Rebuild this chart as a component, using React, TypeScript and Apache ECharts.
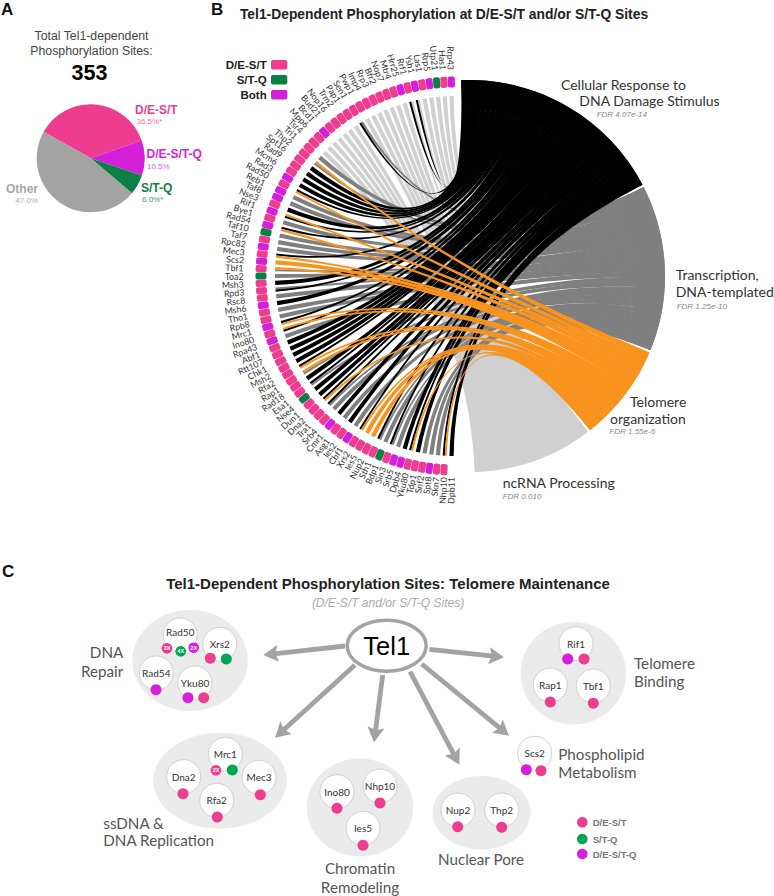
import React, { useEffect, useRef } from "react";
import * as echarts from "echarts";

// ---------- data ----------
const pieNames = ["D/E-S/T", "D/E-S/T-Q", "S/T-Q", "Other"];
const pieValues = [36.5, 10.5, 6.0, 47.0];
const totalSites = "353";

const geneNames = ["Rrp43","Has1","Utp21","Rrp5","Las1","Ysh1","Rrf1","Hrr25","Mtr4","Nop7","Bfr2","Rrp3","Imp4","Pwp1","Sen1","Pap1","Trm2","Nop16","Bud21","Bcd1","Mpp6","Tsr4","Tri1","Thp2","Spt16","Rad9","Mcm6","Rad3","Rad50","Reb1","Taf8","Nse3","Rif1","Bye1","Rad54","Taf10","Taf7","Rpc82","Mec3","Scs2","Tbf1","Toa2","Msh3","Rpd3","Rsc8","Msh6","Tho1","Rpb8","Mrc1","Ino80","Rpa43","Abf1","Rtt107","Chk1","Msh2","Rfa2","Rap1","Rad18","Esa1","Nse4","Dun1","Dna2","Tra1","Srb4","Cmr1","Asg1","Ies2","Cbf1","Xrs2","Ies5","Nup2","Sth1","Bdp1","Sin3","Srb5","Dpb4","Yku80","Tdp1","Snf2","Spt8","Skn7","Nhp10","Dpb11"];
// P = D/E-S/T, G = S/T-Q, B = both
const geneTypes = "BPGBPBPBPPPPPPPPPPPBPPPPPPPBPBBPBPBGPBPBPGPPPBPPBPBPPPPPPPPGPPPPBPPBPPPPGPBBPPPBPP".slice(0, 83).split("");
// K = DNA damage, Y = transcription, O = telomere, L = ncRNA
const geneTerms = ["L","L","L","L","L","LK","LK","L","L","L","L","L","L","L","YK","L","L","L","L","L","L","L","Y","OY","K","K","K","K","KO","Y","Y","K","OK","Y","KO","Y","Y","Y","KO","O","OY","Y","K","YK","Y","K","Y","Y","KO","OK","Y","K","K","K","K","KO","OY","K","KY","K","K","KO","KY","Y","K","Y","K","Y","KO","O","O","KY","Y","KY","Y","K","KO","K","Y","Y","Y","KO","K"];

const termOrder = ["K", "Y", "O", "L"];
const termColors: Record<string, string> = { K: "#000000", Y: "#7f7f7f", O: "#f7931e", L: "#d0d0d0" };
const termTitles = [
  ["Cellular Response to", "DNA Damage Stimulus", "FDR 4.07e-14"],
  ["Transcription,", "DNA-templated", "FDR 1.25e-10"],
  ["Telomere", "organization", "FDR 1.55e-6"],
  ["ncRNA Processing", "", "FDR 0.010"],
];
const siteLegend = ["D/E-S/T", "S/T-Q", "Both"];
const panelCLegend = ["D/E-S/T", "S/T-Q", "D/E-S/T-Q"];

// Panel C: protein, then its site marks as colour code + optional multiplicity
const groupLabels = [
  ["DNA", "Repair"], ["ssDNA &", "DNA Replication"], ["Chromatin", "Remodeling"],
  ["Nuclear Pore"], ["Telomere", "Binding"], ["Phospholipid", "Metabolism"],
];
const proteins = ["Rad50","Xrs2","Rad54","Yku80","Mrc1","Dna2","Mec3","Rfa2","Ino80","Nhp10","Ies5","Nup2","Thp2","Rif1","Rap1","Tbf1","Scs2"];
const proteinSites = [["P3X","G4X","B2X"],["P","G"],["B"],["B","P"],["P2X","G"],["P"],["P"],["P"],["P"],["P"],["P"],["P"],["P"],["B","P"],["P"],["P"],["B","P"]];

// ---------- styles and layout ----------
const PINK = "#ee3d8f", PURPLE = "#d41fdb", GREEN = "#0b7f45", GREEN2 = "#00a651", GREY = "#a3a3a3";
const SANS = "Liberation Sans", HUM = "Lato";
const typeColor: Record<string, string> = { P: PINK, G: GREEN, B: PURPLE };
const dotColor: Record<string, string> = { P: PINK, G: GREEN2, B: PURPLE };
const proteinPos = [[180.3,635],[219.7,644.3],[156.3,673],[195,683],[225.3,754.3],[183.7,776.7],[259,777.3],[216.7,800.3],[337,791.7],[380,786],[363,828.3],[458,810],[501.7,810],[576,643.7],[550.3,685],[593.3,686],[534.7,753.3]];
const dotPos = [[[167,648.3],[180.7,651.3],[193.7,647.7]],[[210.3,658.3],[226.3,659]],[[156,689.7]],[[188,697.7],[203.7,697.7]],[[216,770.3],[232.3,770]],[[183,793.7]],[[260.3,794.7]],[[217.3,817]],[[337,808.3]],[[380,803]],[[363,845.3]],[[457.7,826.7]],[[501.7,827.3]],[[567.7,659],[584,659]],[[550.3,702]],[[593.3,703.3]],[[526.3,769.7],[541,770.7]]];
const blobs = [[190,660.5,57.7,50.5],[220,780.7,66.7,48],[360,807.5,53.3,49],[481.5,812.7,49,36.7],[573.3,673.3,52.7,51.3]];
const arrows = [[345,646,263.3,655],[355,665,275,737.7],[382.7,675,374,742.3],[410,671.7,459.3,764.7],[421.7,664,509,735.7],[429.3,649.3,504,657.3]];
const groupLabelPos: any[] = [
  [123.3,[652,671],"right"],[103.3,[822.7,840],"left"],[360,[868,886.7],"center"],
  [481,[859.3],"center"],[634,[662.7,680.7],"left"],[558.3,[753.7,772],"left"],
];

const N = geneNames.length;
const GENE_R0 = 180, TILE_R = 194, SECT_R = 196;
const UNITS = 212, GAP = 0.45, GENE_BEND = 0.06, SECT_BEND = 0.6, GENE_SPAN = 0.62;
const GENE_KEEP = 0.4, SECT_KEEP = 0.88; // share of ribbon width held at each control point

function txt(text: string, x: number, y: number, o: any = {}) {
  return {
    type: "text", x, y, silent: true,
    style: {
      text, fontFamily: o.font || SANS, fontSize: o.size || 12, fontWeight: o.weight || "normal",
      fontStyle: o.italic ? "italic" : "normal", fill: o.fill || "#333",
      textAlign: o.align || "left", textVerticalAlign: "middle",
    },
  };
}

function arrowEls(a: number[]) {
  const [x0, y0, x1, y1] = a;
  const L = Math.hypot(x1 - x0, y1 - y0), ux = (x1 - x0) / L, uy = (y1 - y0) / L;
  const nx = -uy, ny = ux, hl = 15, hw = 8.5, sw = 2.4, bx = x1 - ux * hl + ux * 2, by = y1 - uy * hl + uy * 2;
  return {
    type: "polygon", silent: true,
    shape: {
      points: [
        [x0 + nx * sw, y0 + ny * sw], [bx + nx * sw, by + ny * sw],
        [x1 - ux * hl + nx * hw, y1 - uy * hl + ny * hw], [x1, y1],
        [x1 - ux * hl - nx * hw, y1 - uy * hl - ny * hw], [bx - nx * sw, by - ny * sw],
        [x0 - nx * sw, y0 - ny * sw],
      ],
    },
    style: { fill: GREY },
  };
}

function buildLinks() {
  const counts: Record<string, number> = {};
  geneTerms.forEach((t) => t.split("").forEach((c) => (counts[c] = (counts[c] || 0) + 1)));
  const starts: Record<string, number> = {};
  const spans: any[] = [];
  let p = 0;
  termOrder.forEach((t) => {
    starts[t] = p;
    spans.push([SECT_R, p, p + counts[t], t]);
    p += counts[t] + GAP;
  });
  const used: Record<string, number> = {};
  const links: any[] = [];
  geneTerms.forEach((terms, i) => {
    const parts = terms.split("");
    const w = GENE_SPAN / parts.length;
    parts.forEach((t, j) => {
      const g0 = i + 0.5 - GENE_SPAN / 2 + j * w;
      const s = starts[t] + (used[t] = (used[t] || 0) + 1) - 1;
      links.push([GENE_R0, g0, g0 + w, s, t]);
    });
  });
  const drawOrder = ["L", "Y", "K", "O"];
  links.sort((a, b) => drawOrder.indexOf(a[4]) - drawOrder.indexOf(b[4]));
  return { links, spans };
}

// control points: centre of the ribbon pulled inward, holding `keep` of the end's width
function ctrl(P0: number[], P1: number[], mid: number[], keep: number) {
  const hx = ((P1[0] - P0[0]) / 2) * keep, hy = ((P1[1] - P0[1]) / 2) * keep;
  return [[mid[0] - hx, mid[1] - hy], [mid[0] + hx, mid[1] + hy]];
}

export default function App() {
  const ref = useRef<HTMLDivElement>(null);
  useEffect(() => {
    if (!ref.current) return;
    const chart = echarts.init(ref.current, undefined, { renderer: "svg" });
    const { links, spans } = buildLinks();
    const sect = (r: number, a: number) => chart.convertToPixel({ polarIndex: 1 } as any, [r, a]) as unknown as number[];

    const g: any[] = [];
    // panel letters and panel A text
    g.push(txt("A", 1, 9, { size: 17, weight: "bold", fill: "#111" }));
    g.push(txt("B", 211, 9, { size: 17, weight: "bold", fill: "#111" }));
    g.push(txt("C", 2, 571, { size: 17, weight: "bold", fill: "#111" }));
    g.push(txt("Total Tel1-dependent", 91.5, 36, { size: 12.3, fill: "#444", align: "center" }));
    g.push(txt("Phosphorylation Sites:", 91.5, 51, { size: 12.3, fill: "#444", align: "center" }));
    g.push(txt(totalSites, 89.5, 73, { size: 21.5, weight: "bold", fill: "#000", align: "center" }));
    const pct = pieValues.map((v) => v.toFixed(1) + "%");
    g.push(txt(pieNames[0], 135, 110, { size: 12, weight: "bold", fill: PINK }));
    g.push(txt(pct[0] + "*", 136.5, 121.5, { size: 8, fill: "#f472ae" }));
    g.push(txt(pieNames[1], 146.5, 154, { size: 12, weight: "bold", fill: PURPLE }));
    g.push(txt(pct[1], 147, 166, { size: 8, fill: "#e05ce6" }));
    g.push(txt(pieNames[2], 141, 188, { size: 12, weight: "bold", fill: GREEN }));
    g.push(txt(pct[2] + "*", 142, 199, { size: 8, fill: "#3f9a68" }));
    g.push(txt(pieNames[3], 38, 189, { size: 12, weight: "bold", fill: "#a8a8a8", align: "right" }));
    g.push(txt(pct[3], 38, 200, { size: 8, fill: "#b0b0b0", align: "right" }));

    // panel B headings
    g.push(txt("Tel1-Dependent Phosphorylation at D/E-S/T and/or S/T-Q Sites", 444, 14, { size: 13.85, weight: "bold", fill: "#222", align: "center" }));
    siteLegend.forEach((s, i) => {
      const y = 65 + i * 15;
      g.push(txt(s, 266.7, y, { size: 11.5, weight: "bold", fill: "#222", align: "right" }));
      g.push({ type: "rect", silent: true, shape: { x: 271, y: y - 5, width: 16.3, height: 9.5, r: 2 }, style: { fill: [PINK, GREEN, PURPLE][i] } });
    });
    const termPos = [
      [[561, 84], [579.3, 100.7], [596.7, 114]],
      [[675.7, 274.3], [675.7, 291], [676.7, 306]],
      [[630, 401.3], [610, 418], [609.3, 431]],
      [[502.7, 482.3], [0, 0], [502.7, 496]],
    ];
    termTitles.forEach((t, i) => {
      t.forEach((s, j) => {
        if (!s) return;
        const [x, y] = termPos[i][j];
        g.push(j < 2 ? txt(s, x, y, { font: HUM, size: 14, fill: "#333" }) : txt(s, x, y, { size: 8, italic: true, fill: "#888" }));
      });
    });

    // panel C
    g.push(txt("Tel1-Dependent Phosphorylation Sites: Telomere Maintenance", 388, 583, { size: 15, weight: "bold", fill: "#222", align: "center" }));
    g.push(txt("(D/E-S/T and/or S/T-Q Sites)", 388, 603, { size: 12, italic: true, fill: "#aaa", align: "center" }));
    blobs.forEach(([cx, cy, rx, ry]) => g.push({ type: "ellipse", silent: true, shape: { cx, cy, rx, ry }, style: { fill: "#ebebeb" } }));
    arrows.forEach((a) => g.push(arrowEls(a)));
    g.push({ type: "ellipse", silent: true, shape: { cx: 386.7, cy: 645.7, rx: 39.5, ry: 25.5 }, style: { fill: "#fff", stroke: GREY, lineWidth: 3.5 } });
    g.push(txt("Tel1", 386.7, 646, { size: 25.5, fill: "#000", align: "center" }));
    proteins.forEach((name, i) => {
      const [cx, cy] = proteinPos[i];
      g.push({ type: "circle", silent: true, shape: { cx, cy, r: 17 }, style: { fill: "#fff", stroke: "#d0d0d0", lineWidth: 1 } });
      g.push(txt(name, cx, cy + (i === 0 ? -3 : 0), { font: HUM, size: 10, fill: "#333", align: "center" }));
      proteinSites[i].forEach((code, j) => {
        const [dx, dy] = dotPos[i][j];
        const badge = code.slice(1);
        g.push({ type: "circle", silent: true, shape: { cx: dx, cy: dy, r: badge ? 5.3 : 5.5 }, style: { fill: dotColor[code[0]] } });
        if (badge) g.push(txt(badge, dx, dy, { size: 5.5, weight: "bold", fill: "#fff", align: "center" }));
      });
    });
    groupLabels.forEach((lines, i) => {
      const [x, ys, align] = groupLabelPos[i];
      lines.forEach((s, j) => g.push(txt(s, x, ys[j], { font: HUM, size: 15.2, fill: "#555", align })));
    });
    panelCLegend.forEach((s, i) => {
      const y = [822.3, 839, 854][i];
      g.push({ type: "circle", silent: true, shape: { cx: 582.3, cy: y, r: 5.3 }, style: { fill: [PINK, GREEN2, PURPLE][i] } });
      g.push(txt(s, 592.7, y + 0.5, { size: 9.5, weight: "bold", fill: "#777" }));
    });

    const f = (p: number[]) => p[0].toFixed(2) + " " + p[1].toFixed(2);
    chart.setOption({
      animation: false,
      polar: [
        { center: [455, 276], radius: 200 },
        { center: [469, 276], radius: SECT_R },
      ],
      radiusAxis: [
        { polarIndex: 0, type: "value", min: 0, max: 200, show: false },
        { polarIndex: 1, type: "value", min: 0, max: SECT_R, show: false },
      ],
      angleAxis: [
        { polarIndex: 0, type: "value", min: 0, max: 2 * N, startAngle: 90, clockwise: false, show: false },
        { polarIndex: 1, type: "value", min: 0, max: UNITS, startAngle: 92.3, clockwise: true, show: false },
      ],
      graphic: { elements: g },
      series: [
        {
          type: "pie", center: [90.7, 158.3], radius: 54, startAngle: 150.6, clockwise: true,
          silent: true, label: { show: false }, labelLine: { show: false },
          data: pieNames.map((name, i) => ({
            name, value: pieValues[i],
            itemStyle: { color: [PINK, PURPLE, GREEN, GREY][i] },
          })),
        },
        {
          // ribbons from each gene to its term
          type: "custom", coordinateSystem: "polar", polarIndex: 0, silent: true,
          encode: { radius: 0, angle: 1 },
          data: links,
          renderItem: (_p: any, api: any) => {
            const a0 = api.value(1), a1 = api.value(2), s = api.value(3);
            const term = links[_p.dataIndex][4];
            const P0 = api.coord([GENE_R0, a0]), P1 = api.coord([GENE_R0, a1]);
            const Q0 = sect(SECT_R, s), Q1 = sect(SECT_R, s + 1);
            const [C0, C1] = ctrl(P0, P1, api.coord([GENE_R0 * GENE_BEND, (a0 + a1) / 2]), GENE_KEEP);
            const [D0, D1] = ctrl(Q0, Q1, sect(SECT_R * SECT_BEND, s + 0.5), SECT_KEEP);
            const d = `M${f(P0)} C${f(C0)} ${f(D0)} ${f(Q0)} A${SECT_R} ${SECT_R} 0 0 1 ${f(Q1)} C${f(D1)} ${f(C1)} ${f(P1)} Z`;
            return { type: "path", shape: { pathData: d }, style: { fill: termColors[term] } };
          },
        },
        {
          // solid band along the outer edge of every term
          type: "custom", coordinateSystem: "polar", polarIndex: 1, silent: true,
          encode: { radius: 0, angle: 1 },
          data: spans,
          renderItem: (p: any, api: any) => {
            const a = api.value(1), b = api.value(2), r0 = SECT_R - 28;
            const A = api.coord([SECT_R, a]), B = api.coord([SECT_R, b]), C = api.coord([r0, b]), D = api.coord([r0, a]);
            const d = `M${f(A)} A${SECT_R} ${SECT_R} 0 0 1 ${f(B)} L${f(C)} A${r0} ${r0} 0 0 0 ${f(D)} Z`;
            return { type: "path", shape: { pathData: d }, style: { fill: termColors[spans[p.dataIndex][3]] } };
          },
        },
        {
          // gene tiles
          type: "custom", coordinateSystem: "polar", polarIndex: 0, silent: true,
          encode: { radius: 0, angle: 1 },
          data: geneNames.map((_, i) => [TILE_R, i + 0.5]),
          renderItem: (p: any, api: any) => {
            const [x, y] = api.coord([api.value(0), api.value(1)]);
            const phi = (api.value(1) / N) * 180;
            return {
              type: "rect", x, y, rotation: ((phi - 90) * Math.PI) / 180,
              shape: { x: -5.5, y: -3.5, width: 11, height: 7, r: 2 },
              style: { fill: typeColor[geneTypes[p.dataIndex]] },
            };
          },
        },
        {
          // gene names
          type: "custom", coordinateSystem: "polar", polarIndex: 0, silent: true,
          encode: { radius: 0, angle: 1 },
          data: geneNames.map((_, i) => [206, i + 0.5]),
          renderItem: (p: any, api: any) => {
            const phi = (api.value(1) / N) * 180;
            const rad = (phi * Math.PI) / 180;
            const [x, y] = api.coord([api.value(0) - (5 * phi) / 180 + 8 * Math.sin(rad), api.value(1)]);
            return {
              type: "text", x, y, rotation: ((phi - 90) * Math.PI) / 180,
              style: {
                text: geneNames[p.dataIndex], fontFamily: HUM, fontSize: 8.8, fill: "#333",
                textAlign: "right", textVerticalAlign: "middle",
              },
            };
          },
        },
      ],
    });
    return () => chart.dispose();
  }, []);
  return <div ref={ref} style={{ position: "absolute", left: 0, top: 0, width: 774, height: 896 }} />;
}
